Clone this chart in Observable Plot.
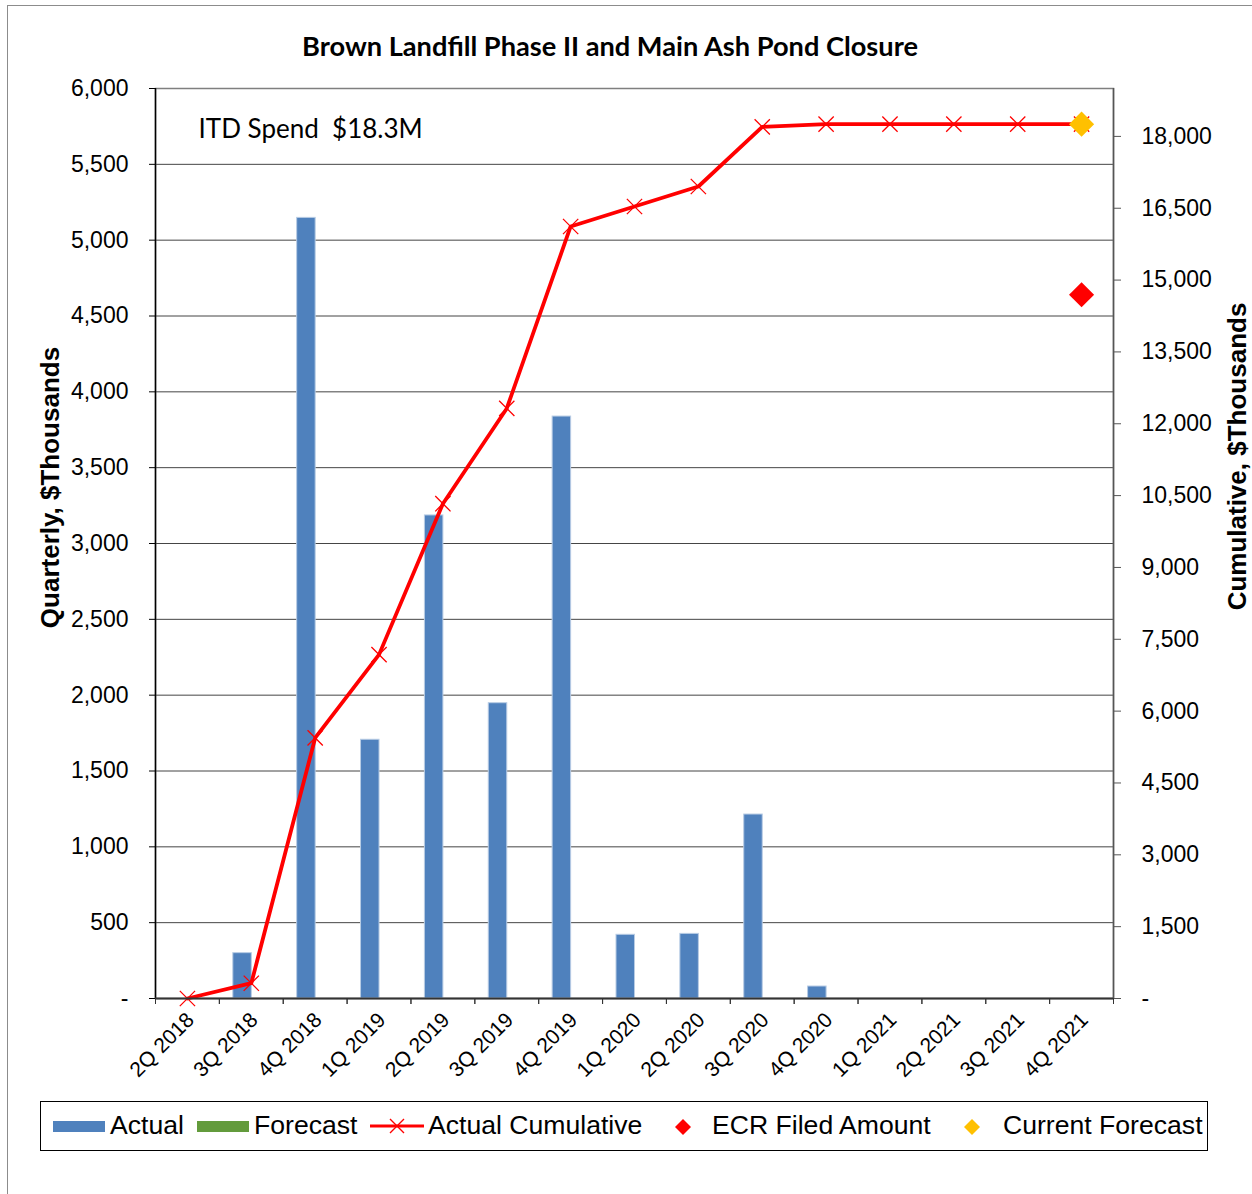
<!DOCTYPE html>
<html>
<head>
<meta charset="utf-8">
<script src="https://cdn.jsdelivr.net/npm/d3@7"></script>
<script src="https://cdn.jsdelivr.net/npm/@observablehq/plot@0.6"></script>
<style>
  body { margin: 0; background: #fff; }
  #wrap { position: relative; width: 1252px; height: 1194px; overflow: hidden; font-family: "Liberation Sans", Arial, sans-serif; background: #fff; }
  #outer { position: absolute; left: 7px; top: 5px; width: 1400px; height: 1400px; border-left: 1.5px solid #8c8c8c; border-top: 1.5px solid #8c8c8c; }
  #chart { position: absolute; left: 0; top: 0; }
  #title { position: absolute; top: 29px; left: 0; width: 1220px; text-align: center; font-family: Lato, sans-serif; font-weight: 700; font-size: 24px; white-space: nowrap; color: #000; }
  #title span { display: inline-block; }
  #legend { position: absolute; left: 40px; top: 1101px; width: 1168px; height: 50px; box-sizing: border-box; border: 1.5px solid #000; background: #fff; }
  .lg { position: absolute; top: 0; height: 47px; line-height: 47px; font-size: 26.6px; color: #000; white-space: nowrap; }
  .sw { position: absolute; }
</style>
</head>
<body>
<div id="wrap">
  <div id="outer"></div>
  <div id="chart"></div>
  <div id="title"><span id="titleText"></span></div>
  <div id="legend"></div>
</div>
<script>
// ---------- data ----------
const chartTitle = "Brown Landfill Phase II and Main Ash Pond Closure";
const annotation = "ITD Spend\u00a0\u00a0$18.3M";
const quarters = ["2Q 2018","3Q 2018","4Q 2018","1Q 2019","2Q 2019","3Q 2019","4Q 2019","1Q 2020","2Q 2020","3Q 2020","4Q 2020","1Q 2021","2Q 2021","3Q 2021","4Q 2021"];
const actual = [0, 299, 5147, 1706, 3185, 1947, 3837, 420, 426, 1213, 79, null, null, null, null];
const forecast = [null, null, null, null, null, null, null, null, null, null, null, null, null, null, null];
const actualCumulative = [0, 319, 5441, 7180, 10331, 12320, 16119, 16536, 16954, 18200, 18256, 18256, 18256, 18256, 18256];
const ecrFiledAmount = [null, null, null, null, null, null, null, null, null, null, null, null, null, null, 14694];
const currentForecast = [null, null, null, null, null, null, null, null, null, null, null, null, null, null, 18256];
const leftTicks = [0, 500, 1000, 1500, 2000, 2500, 3000, 3500, 4000, 4500, 5000, 5500, 6000];
const rightTicks = [0, 1500, 3000, 4500, 6000, 7500, 9000, 10500, 12000, 13500, 15000, 16500, 18000];
const leftMax = 6000, rightMax = 19000;
const leftLabel = "Quarterly, $Thousands";
const rightLabel = "Cumulative, $Thousands";
const legendItems = ["Actual", "Forecast", "Actual Cumulative", "ECR Filed Amount", "Current Forecast"];

// ---------- colours ----------
const BLUE = "#4F81BD", GREEN = "#639B3C", RED = "#FF0000", GOLD = "#FFC000";

// ---------- build ----------
const W = 1252, H = 1090;
const mL = 155, mR = 139, mT = 88, mB = 92;
const bw = (W - mL - mR) / quarters.length;
const k = leftMax / rightMax;
const fmt = d => (Math.round(d) === 0 ? "-" : d3.format(",")(Math.round(d)));

const rows = quarters.map((q, i) => ({
  q, actual: actual[i], forecast: forecast[i], cum: actualCumulative[i],
  ecr: ecrFiledAmount[i], cf: currentForecast[i]
}));
const toRight = v => (v == null ? NaN : v * k);

const chart = Plot.plot({
  width: W, height: H,
  marginLeft: mL, marginRight: mR, marginTop: mT, marginBottom: mB,
  style: { fontFamily: "'Liberation Sans', Arial, sans-serif", background: "transparent", color: "#000", overflow: "visible" },
  x: { type: "band", domain: quarters, padding: 0, round: false, axis: null },
  y: { domain: [0, leftMax], axis: null },
  marks: [
    Plot.ruleY(leftTicks.filter(d => d > 0 && d < leftMax), { stroke: "#454545", strokeWidth: 1 }),
    Plot.frame({ stroke: "#7f7f7f", strokeWidth: 1.5 }),
    Plot.barY(rows, { x: "q", y: "actual", fill: BLUE, stroke: "#b8cce4", strokeWidth: 1, insetLeft: bw / 2 - 18, insetRight: bw / 2 - 0.5 }),
    Plot.barY(rows, { x: "q", y: "forecast", fill: GREEN, insetLeft: bw / 2 + 0.5, insetRight: bw / 2 - 18 }),
    Plot.line(rows, { x: "q", y: d => toRight(d.cum), stroke: RED, strokeWidth: 3.8 }),
    Plot.dot(rows, { x: "q", y: d => toRight(d.cum), symbol: "times", r: 7, stroke: RED, strokeWidth: 1.3 }),
    Plot.dot(rows, { x: "q", y: d => toRight(d.ecr), symbol: "diamond2", r: 11.3, fill: RED, stroke: "none" }),
    Plot.dot(rows, { x: "q", y: d => toRight(d.cf), symbol: "diamond2", r: 11.3, fill: GOLD, stroke: "none" }),
    // axis lines
    Plot.ruleX([quarters[0]], { dx: -bw / 2, stroke: "#000", strokeWidth: 1.5 }),
    Plot.ruleX([quarters[quarters.length - 1]], { dx: bw / 2, stroke: "#555", strokeWidth: 1.5 }),
    Plot.ruleY([0], { stroke: "#333", strokeWidth: 1.8 }),
    // left axis
    Plot.axisY(leftTicks, { anchor: "left", tickSize: 6, tickPadding: 21, tickFormat: fmt, fontSize: 23, label: null, stroke: "#000" }),
    // right axis (cumulative), mapped onto the shared y scale
    Plot.axisY(rightTicks.map(v => v * k), { anchor: "right", tickSize: 7, tickPadding: 21, tickFormat: d => fmt(d / k), fontSize: 23, label: null, stroke: "#555" }),
    // x boundary ticks
    Plot.axisX({ tickSize: 6, tickFormat: () => "", dx: -bw / 2, label: null, stroke: "#333" }),
    Plot.axisX({ tickSize: 6, tickFormat: () => "", dx: bw / 2, label: null, stroke: "#333" }),
    // x labels
    Plot.axisX({ tickSize: 0, tickPadding: 18, tickRotate: -45, fontSize: 21, label: null, dx: 3 }),
    // axis titles
    Plot.text([leftLabel], { frameAnchor: "left", rotate: -90, dx: -105, dy: -56, fontSize: 26, fontWeight: "bold", textAnchor: "middle" }),
    Plot.text([rightLabel], { frameAnchor: "right", rotate: -90, dx: 124, dy: -87, fontSize: 26, fontWeight: "bold", textAnchor: "middle" }),
    // annotation
    Plot.text([annotation], { frameAnchor: "top-left", dx: 43, dy: 31, fontSize: 26, fontFamily: "Lato, sans-serif", textAnchor: "start", lineAnchor: "top" })
  ]
});
document.getElementById("chart").appendChild(chart);

// title, fitted to the reference width
const tt = document.getElementById("titleText");
tt.textContent = chartTitle;
let fs = 24;
tt.style.fontSize = fs + "px";
const w0 = tt.getBoundingClientRect().width;
fs = fs * 616 / w0;
tt.style.fontSize = fs.toFixed(2) + "px";

// legend
const lg = document.getElementById("legend");
function add(html) { lg.insertAdjacentHTML("beforeend", html); }
const svgNS = 'xmlns="http://www.w3.org/2000/svg"';
add(`<div class="sw" style="left:12px;top:19px;width:52px;height:11px;background:${BLUE}"></div>`);
add(`<div class="lg" style="left:69px">${legendItems[0]}</div>`);
add(`<div class="sw" style="left:156px;top:19px;width:52px;height:11px;background:${GREEN}"></div>`);
add(`<div class="lg" style="left:213px">${legendItems[1]}</div>`);
add(`<svg class="sw" ${svgNS} style="left:329px;top:14px" width="54" height="20"><line x1="0" y1="10" x2="54" y2="10" stroke="${RED}" stroke-width="3"/><path d="M20,3L34,17M34,3L20,17" stroke="${RED}" stroke-width="1.4"/></svg>`);
add(`<div class="lg" style="left:387px">${legendItems[2]}</div>`);
add(`<svg class="sw" ${svgNS} style="left:632px;top:15px" width="20" height="20"><path d="M10,2L18,10L10,18L2,10Z" fill="${RED}"/></svg>`);
add(`<div class="lg" style="left:671px">${legendItems[3]}</div>`);
add(`<svg class="sw" ${svgNS} style="left:921px;top:15px" width="20" height="20"><path d="M10,2L18,10L10,18L2,10Z" fill="${GOLD}"/></svg>`);
add(`<div class="lg" style="left:962px">${legendItems[4]}</div>`);
</script>
</body>
</html>
